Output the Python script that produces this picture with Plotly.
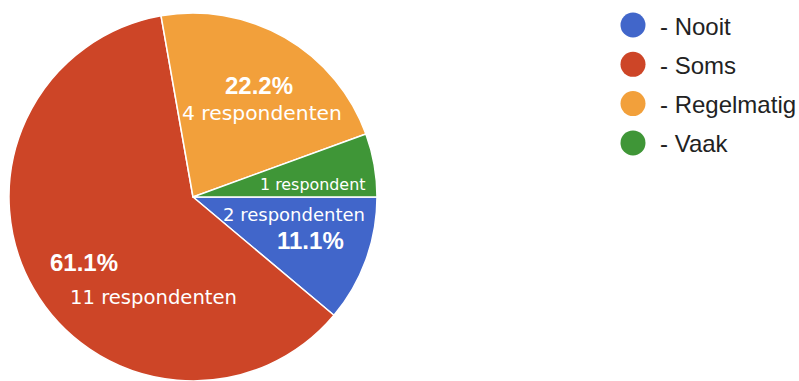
import plotly.graph_objects as go

# Survey answers and respondent counts
categories = ["Nooit", "Soms", "Regelmatig", "Vaak"]
counts = [2, 11, 4, 1]
colors = ["#4166CA", "#CD4527", "#F2A03B", "#3F9637"]

W, H = 799, 381
total = sum(counts)
percents = [100.0 * c / total for c in counts]


def px(x):
    return x / W


def py(y):
    return 1 - y / H


fig = go.Figure(
    go.Pie(
        labels=categories,
        values=counts,
        marker=dict(colors=colors, line=dict(color="white", width=1.5)),
        sort=False,
        direction="clockwise",
        rotation=90,
        textinfo="none",
        hoverinfo="skip",
        showlegend=False,
        domain=dict(x=[px(9), px(377)], y=[0, py(13)]),
    )
)

# Slice labels: (percent position, count position, count font size)
label_layout = {
    "Nooit": ((310, 241), (294, 214), 18),
    "Soms": ((84, 262), (153, 297), 19.6),
    "Regelmatig": ((259, 85), (262, 113), 20.3),
    "Vaak": (None, (312, 184), 15.9),
}

annotations = []
for cat, cnt, pct in zip(categories, counts, percents):
    pct_pos, cnt_pos, size = label_layout[cat]
    word = "respondent" if cnt == 1 else "respondenten"
    if pct_pos is not None:
        annotations.append(dict(
            x=px(pct_pos[0]), y=py(pct_pos[1]), xref="paper", yref="paper",
            text=f"<b>{pct:.1f}%</b>", showarrow=False,
            xanchor="center", yanchor="middle",
            font=dict(family="Liberation Sans, Arial", size=24, color="white"),
        ))
    annotations.append(dict(
        x=px(cnt_pos[0]), y=py(cnt_pos[1]), xref="paper", yref="paper",
        text=f"{cnt} {word}", showarrow=False,
        xanchor="center", yanchor="middle",
        font=dict(family="DejaVu Sans", size=size, color="white"),
    ))

# Legend with round swatches
shapes = []
legend_x, legend_y0, legend_dy, r = 633, 25, 39.3, 12.5
for i, (cat, col) in enumerate(zip(categories, colors)):
    cy = legend_y0 + i * legend_dy
    shapes.append(dict(
        type="circle", xref="paper", yref="paper",
        x0=px(legend_x - r), x1=px(legend_x + r),
        y0=py(cy + r), y1=py(cy - r),
        fillcolor=col, line=dict(width=0),
    ))
    annotations.append(dict(
        x=px(658), y=py(cy + 1), xref="paper", yref="paper",
        text=f"- {cat}", showarrow=False,
        xanchor="left", yanchor="middle",
        font=dict(family="Liberation Sans, Arial", size=24, color="#222222"),
    ))

fig.update_layout(
    width=W, height=H,
    margin=dict(l=0, r=0, t=0, b=0),
    paper_bgcolor="white",
    plot_bgcolor="white",
    annotations=annotations,
    shapes=shapes,
)

fig.write_html("out.html", config={"displayModeBar": False})
